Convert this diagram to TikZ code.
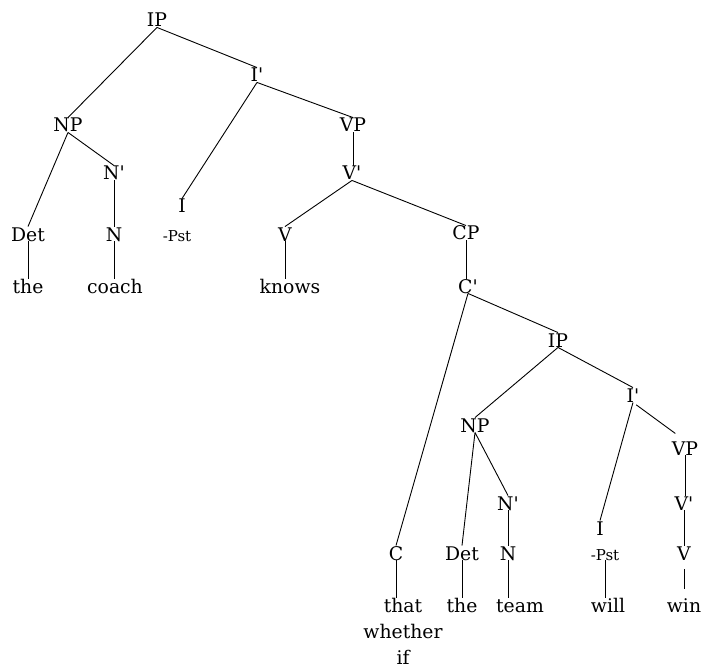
\documentclass[tikz,border=0pt]{standalone}
\usepackage{fontspec}
\setmainfont{DejaVu Serif}
\usetikzlibrary{positioning}
\newcommand{\prm}{\textquotesingle}

\begin{document}
\begin{tikzpicture}[x=1pt, y=-1pt, line width=0.9pt,
    lbl/.style={inner sep=0pt, text height=14pt, text depth=0pt, anchor=base,
                font=\fontsize{18.8}{26}\selectfont},
    sml/.style={lbl, font=\fontsize{15}{18}\selectfont},
    branch/.style={shorten <=4pt, shorten >=12pt},
    bar/.style={shorten <=9pt, shorten >=9pt}]
        \useasboundingbox (0,0) rectangle (704,671);
        % matrix clause
        \node[lbl] (ipA) at (157,27) {IP};
        \node[lbl] (ibarA) at (257,82) {I\prm};
        \node[lbl] (npA) at (68,132) {NP};
        \node[lbl] (nbarA) at (114,180) {N\prm};
        \node[lbl] (detA) at (28,241) {Det};
        \node[lbl] (nA) at (114,241) {N};
        \node[lbl] (theA) at (28,293) {the};
        \node[lbl] (coach) at (115,293) {coach};
        \node[lbl] (iA) at (182,213) {I};
        \node[sml] (pstA) at (177,241) {-Pst};
        \node[lbl] (vpA) at (353,132) {VP};
        \node[lbl] (vbarA) at (352,180) {V\prm};
        \node[lbl] (vA) at (285,241) {V};
        \node[lbl] (knows) at (290,293) {knows};
        \node[lbl] (cp) at (466,240) {CP};
        \node[lbl] (cbar) at (468,293) {C\prm};
        % embedded clause
        \node[lbl] (ipB) at (558,347) {IP};
        \node[lbl] (ibarB) at (633,402) {I\prm};
        \node[lbl] (npB) at (475,432) {NP};
        \node[lbl] (vpB) at (685,455) {VP};
        \node[lbl] (nbarB) at (508,510) {N\prm};
        \node[lbl] (vbarB) at (684,510) {V\prm};
        \node[lbl] (iB) at (600,535) {I};
        \node[lbl] (c) at (396,560) {C};
        \node[lbl] (detB) at (462,560) {Det};
        \node[lbl] (nB) at (508,560) {N};
        \node[sml] (pstB) at (605,560) {-Pst};
        \node[lbl] (vB) at (684,560) {V};
        \node[lbl] (comp) at (403,612)
            {\begin{tabular}[t]{@{}c@{}}that\\whether\\if\end{tabular}};
        \node[lbl] (theB) at (462,612) {the};
        \node[lbl] (team) at (520,612) {team};
        \node[lbl] (will) at (608,612) {will};
        \node[lbl] (win) at (684,612) {win};

        \draw[branch]
        (ipA.south) -- (npA.north)
        (ipA.south) -- (ibarA.north)
        (npA.south) -- (detA.north)
        (npA.south) -- (nbarA.north)
        (ibarA.south) -- (iA.north)
        (ibarA.south) -- (vpA.north)
        (vbarA.south) -- (vA.north)
        (vbarA.south) -- (cp.north)
        (cbar.south) -- (c.north)
        (cbar.south) -- (ipB.north)
        (ipB.south) -- (npB.north)
        (ipB.south) -- (ibarB.north)
        (npB.south) -- (detB.north)
        (npB.south) -- (nbarB.north)
        (ibarB.south) -- (iB.north)
        (ibarB.south) -- (vpB.north);
        \draw[bar]
        (detA.south) -- (detA.south |- theA.north)
        (nbarA.south) -- (nbarA.south |- nA.north)
        (nA.south) -- (nA.south |- coach.north)
        (vpA.south) -- (vpA.south |- vbarA.north)
        (vA.south) -- (vA.south |- knows.north)
        (cp.south) -- (cp.south |- cbar.north)
        (nbarB.south) -- (nbarB.south |- nB.north)
        (vpB.south) -- (vpB.south |- vbarB.north)
        (vbarB.south) -- (vbarB.south |- vB.north)
        (c.south) -- (c.south |- comp.north)
        (detB.south) -- (detB.south |- theB.north)
        (nB.south) -- (nB.south |- team.north)
        (pstB.south) -- (pstB.south |- will.north)
        (vB.south) -- (vB.south |- win.north);
    \end{tikzpicture}
\end{document}
